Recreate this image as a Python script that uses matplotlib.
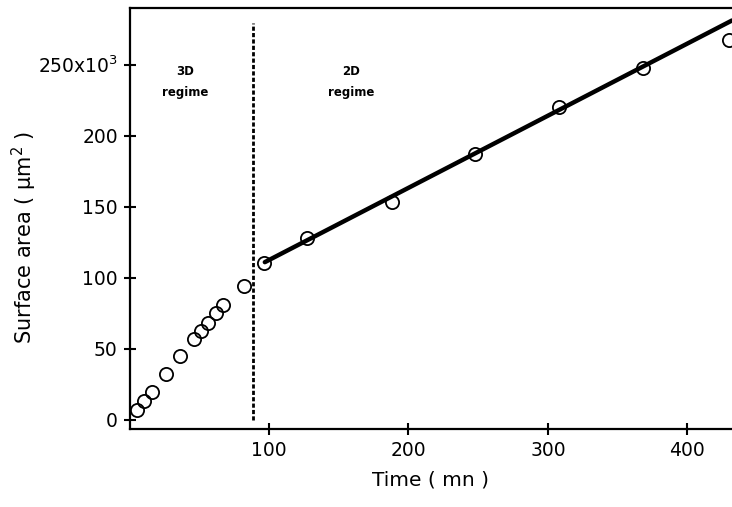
import matplotlib
matplotlib.use("Agg")
import matplotlib.pyplot as plt

# 3D regime measurements (time in mn, surface in 10^3 um^2)
t_3d = [5.2, 10.4, 15.9, 26.2, 36.2, 46.2, 51.5, 56.5, 61.8, 66.8, 82.1]
s_3d = [7.0, 13.4, 19.9, 32.1, 45.0, 56.7, 62.6, 68.4, 75.0, 80.9, 94.4]

# 2D regime measurements
t_2d = [96.4, 127.0, 188.0, 247.7, 308.0, 368.3, 430.0]
s_2d = [110.2, 127.8, 153.4, 187.0, 219.9, 247.3, 267.2]

# linear fit drawn over 2D regime
fit_t = [97, 432]
fit_s = [111, 281]

# boundary between regimes
t_boundary = 88.5
boundary_s = [0, 279]

xticks = [100, 200, 300, 400]
yticks = [0, 50, 100, 150, 200, 250]
ytick_labels = ["0", "50", "100", "150", "200", "250x10$^3$"]

plt.rcParams['font.family'] = ['DejaVu Sans']
plt.rcParams['mathtext.default'] = 'regular'

fig = plt.figure(figsize=(7.32, 5.07), dpi=100)
ax = fig.add_axes([0.177, 0.154, 0.823, 0.830])

ax.plot(fit_t, fit_s, color='black', lw=3.2, solid_capstyle='round', zorder=3)
ax.plot(t_3d + t_2d, s_3d + s_2d, 'o', mfc='none', mec='black', ms=9.5, mew=1.3, zorder=4)
ax.plot([t_boundary, t_boundary], boundary_s, color='black', lw=2,
        linestyle=(0, (1.5, 0.8)), zorder=2)

ax.text(40, 245, "3D", ha='center', va='center', fontsize=8.5, fontweight='bold')
ax.text(40, 230, "regime", ha='center', va='center', fontsize=8.5, fontweight='bold')
ax.text(159, 245, "2D", ha='center', va='center', fontsize=8.5, fontweight='bold')
ax.text(159, 230, "regime", ha='center', va='center', fontsize=8.5, fontweight='bold')

ax.set_xlim(0, 432)
ax.set_ylim(-6.3, 289.7)
ax.set_xticks(xticks)
ax.set_yticks(yticks)
ax.set_yticklabels(ytick_labels)

ax.spines['right'].set_visible(False)
for s in ['left', 'bottom', 'top']:
    ax.spines[s].set_linewidth(1.6)

ax.tick_params(direction='inout', length=9, width=1.5, labelsize=13.5, pad=4)

ax.set_xlabel("Time ( mn )", fontsize=14.5, labelpad=8)
ax.set_ylabel("Surface area ( µm$^2$ )", fontsize=15)
ax.yaxis.set_label_coords(-0.15, 0.455)

fig.savefig("out.png", dpi=100)
